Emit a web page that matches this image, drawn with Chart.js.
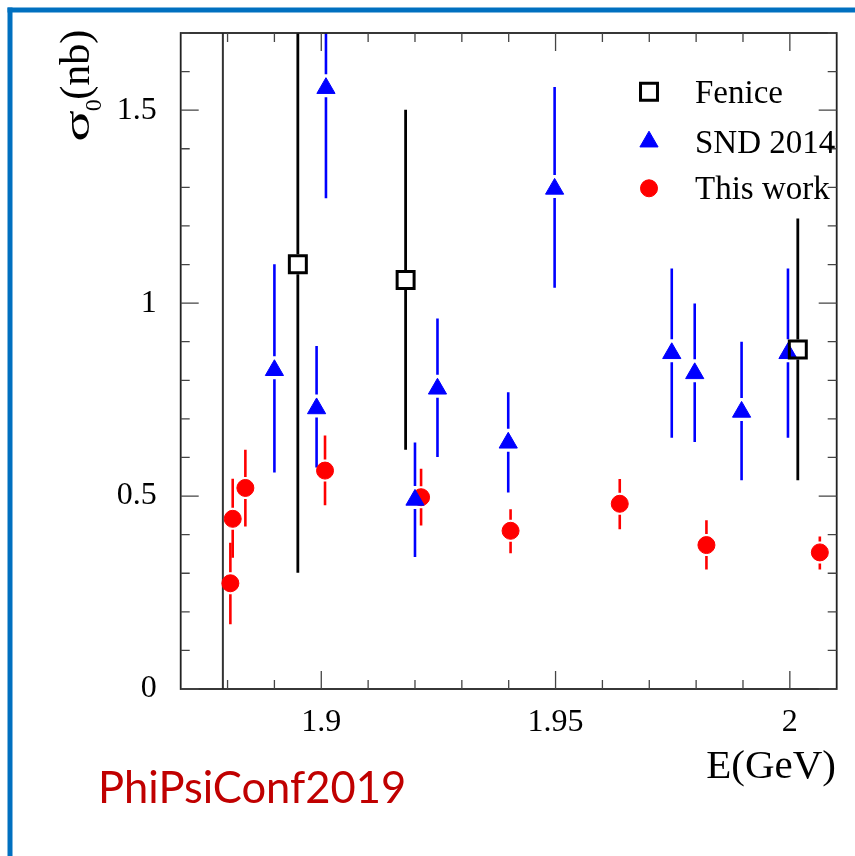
<!DOCTYPE html>
<html><head><meta charset="utf-8">
<script src="https://cdn.jsdelivr.net/npm/chart.js@4/dist/chart.umd.min.js"></script>
<style>html,body{margin:0;padding:0;background:#fff;} canvas{display:block;}</style>
</head><body>
<canvas id="c" width="855" height="856"></canvas>
<script>
// ---- data ----
const feniceE     = [1.8950, 1.9180, 2.0017];
const feniceSigma = [1.101, 1.060, 0.880];
const feniceHi    = [1.901, 1.501, 1.219];
const feniceLo    = [0.301, 0.620, 0.541];

const sndE     = [1.8900, 1.8990, 1.9010, 1.9200, 1.9248, 1.9399, 1.9498, 1.9748, 1.9797, 1.9897, 1.9996];
const sndSigma = [0.826, 0.727, 1.557, 0.490, 0.778, 0.638, 1.296, 0.870, 0.818, 0.718, 0.870];
const sndHi    = [1.101, 0.889, 1.842, 0.639, 0.960, 0.769, 1.560, 1.090, 0.999, 0.900, 1.090];
const sndLo    = [0.561, 0.574, 1.272, 0.342, 0.601, 0.509, 1.040, 0.651, 0.640, 0.541, 0.651];

const thisE     = [1.8806, 1.8811, 1.8838, 1.9008, 1.9213, 1.9404, 1.9637, 1.9822, 2.0064];
const thisSigma = [0.274, 0.441, 0.521, 0.566, 0.497, 0.410, 0.480, 0.373, 0.354];
const thisHi    = [0.379, 0.545, 0.620, 0.657, 0.571, 0.466, 0.544, 0.437, 0.395];
const thisLo    = [0.168, 0.340, 0.421, 0.476, 0.424, 0.352, 0.414, 0.310, 0.310];

const thresholdE = 1.879;
const seriesLabels = ['Fenice', 'SND 2014', 'This work'];
const xMajorTicks = [1.9, 1.95, 2];
const xMinorTicks = [1.88, 1.89, 1.91, 1.92, 1.93, 1.94, 1.96, 1.97, 1.98, 1.99, 2.0];
const yMajorTicks = [0, 0.5, 1, 1.5];
const yMinorTicks = [0.1, 0.2, 0.3, 0.4, 0.6, 0.7, 0.8, 0.9, 1.1, 1.2, 1.3, 1.4, 1.6, 1.7];
const xTitle = 'E(GeV)';
const yTitleMain = 'σ', yTitleSub = '0', yTitleRest = '(nb)';
const watermark = 'PhiPsiConf2019';

const pts = (xs, ys) => xs.map((x, i) => ({x: x, y: ys[i]}));
const SERIF = "'Liberation Serif', 'Times New Roman', serif";

function marker(ctx, style, x, y, r, fill, stroke, bw) {
  ctx.save();
  ctx.beginPath();
  if (style === 'rect') {
    const s = r * Math.SQRT1_2;
    ctx.rect(x - s, y - s, 2 * s, 2 * s);
  } else if (style === 'triangle') {
    ctx.moveTo(x, y - r);
    ctx.lineTo(x + 0.866 * r, y + 0.5 * r);
    ctx.lineTo(x - 0.866 * r, y + 0.5 * r);
    ctx.closePath();
  } else {
    ctx.arc(x, y, r, 0, Math.PI * 2);
  }
  ctx.fillStyle = fill; ctx.fill();
  if (bw > 0) { ctx.lineWidth = bw; ctx.strokeStyle = stroke; ctx.stroke(); }
  ctx.restore();
}

const bgPlugin = {
  id: 'bg',
  beforeDraw(chart) {
    const ctx = chart.ctx;
    ctx.save();
    ctx.fillStyle = '#fff';
    ctx.fillRect(0, 0, chart.width, chart.height);
    ctx.fillStyle = '#0070C0';
    ctx.fillRect(7.5, 7.5, chart.width - 7.5, 5);
    ctx.fillRect(7.5, 7.5, 5, chart.height - 7.5);
    ctx.restore();
  }
};

const errPlugin = {
  id: 'errbars',
  beforeDatasetsDraw(chart) {
    const ctx = chart.ctx, xs = chart.scales.x, ys = chart.scales.y, a = chart.chartArea;
    ctx.save();
    ctx.beginPath(); ctx.rect(a.left, a.top, a.right - a.left, a.bottom - a.top); ctx.clip();
    chart.data.datasets.forEach(ds => {
      if (!ds.errHi) return;
      ctx.strokeStyle = ds.borderColor; ctx.lineWidth = ds.errWidth; ctx.lineCap = 'butt';
      ds.data.forEach((p, i) => {
        const px = xs.getPixelForValue(p.x), py = ys.getPixelForValue(p.y);
        const ph = ys.getPixelForValue(ds.errHi[i]), pl = ys.getPixelForValue(ds.errLo[i]);
        ctx.beginPath();
        if (ph < py - ds.gapUp) { ctx.moveTo(px, ph); ctx.lineTo(px, py - ds.gapUp); }
        if (pl > py + ds.gapDown) { ctx.moveTo(px, py + ds.gapDown); ctx.lineTo(px, pl); }
        ctx.stroke();
      });
    });
    ctx.restore();
  }
};

const framePlugin = {
  id: 'frame',
  afterDatasetsDraw(chart) {
    const ctx = chart.ctx, xs = chart.scales.x, ys = chart.scales.y, a = chart.chartArea;
    ctx.save();
    ctx.strokeStyle = '#222'; ctx.lineWidth = 1.8;
    ctx.strokeRect(a.left, a.top, a.right - a.left, a.bottom - a.top);
    ctx.lineWidth = 1.3; ctx.strokeStyle = '#444';
    ctx.beginPath();
    const tx = (vals, len) => vals.forEach(v => { const p = xs.getPixelForValue(v);
      ctx.moveTo(p, a.bottom); ctx.lineTo(p, a.bottom - len); ctx.moveTo(p, a.top); ctx.lineTo(p, a.top + len); });
    const ty = (vals, len) => vals.forEach(v => { const p = ys.getPixelForValue(v);
      ctx.moveTo(a.left, p); ctx.lineTo(a.left + len, p); ctx.moveTo(a.right, p); ctx.lineTo(a.right - len, p); });
    tx(xMajorTicks, 18); tx(xMinorTicks, 9); ty(yMajorTicks, 18); ty(yMinorTicks, 9);
    ctx.stroke();
    ctx.restore();
  },
  afterDraw(chart) {
    const ctx = chart.ctx;
    ctx.save();
    // legend
    const ds = chart.data.datasets;
    const ly = [91.7, 141.7, 188.3];
    ctx.font = '33px ' + SERIF; ctx.fillStyle = '#000'; ctx.textBaseline = 'alphabetic';
    for (let i = 0; i < 3; i++) {
      const d = ds[i];
      marker(ctx, d.pointStyle, 649, ly[i], d.pointRadius, d.backgroundColor, d.borderColor, d.borderWidth);
      ctx.fillStyle = '#000';
      ctx.fillText(d.label, 695, ly[i] + 11);
    }
    // x title
    ctx.font = '41px ' + SERIF; ctx.textAlign = 'right';
    ctx.fillText(xTitle, 836, 778);
    // y title
    ctx.save();
    ctx.translate(88.5, 141.7); ctx.rotate(-Math.PI / 2);
    ctx.textAlign = 'left';
    ctx.font = '36px ' + SERIF;
    const sw = ctx.measureText(yTitleMain).width;
    ctx.save(); ctx.scale(31.7 / sw, 1); ctx.fillText(yTitleMain, 0, 0); ctx.restore();
    ctx.font = '24px ' + SERIF;
    ctx.fillText(yTitleSub, 30.5, 12);
    ctx.font = '42px ' + SERIF;
    ctx.fillText(yTitleRest, 42, 0);
    ctx.restore();
    // watermark
    ctx.font = "43.5px Lato, 'Open Sans', sans-serif"; ctx.fillStyle = '#C00000'; ctx.textAlign = 'left';
    ctx.fillText(watermark, 98, 803);
    ctx.restore();
  }
};

new Chart(document.getElementById('c'), {
  type: 'scatter',
  data: {
    datasets: [
      { label: seriesLabels[0], data: pts(feniceE, feniceSigma), errHi: feniceHi, errLo: feniceLo,
        pointStyle: 'rect', pointRadius: 12, backgroundColor: 'rgba(255,255,255,0)', borderColor: '#000', borderWidth: 3,
        errWidth: 2.8, gapUp: 10, gapDown: 10 },
      { label: seriesLabels[1], data: pts(sndE, sndSigma), errHi: sndHi, errLo: sndLo,
        pointStyle: 'triangle', pointRadius: 10.5, backgroundColor: '#0000FF', borderColor: '#0000FF', borderWidth: 1,
        errWidth: 2.6, gapUp: 14, gapDown: 9 },
      { label: seriesLabels[2], data: pts(thisE, thisSigma), errHi: thisHi, errLo: thisLo,
        pointStyle: 'circle', pointRadius: 8.5, backgroundColor: '#FF0000', borderColor: '#FF0000', borderWidth: 1,
        errWidth: 2.6, gapUp: 11, gapDown: 11 },
      { type: 'line', label: 'threshold', data: [{x: thresholdE, y: 0}, {x: thresholdE, y: 1.7}],
        borderColor: '#333', borderWidth: 2, pointRadius: 0, showLine: true, fill: false }
    ]
  },
  options: {
    responsive: false, animation: false, devicePixelRatio: 1,
    layout: { padding: { left: 0, right: 18.3, top: 33, bottom: 0 } },
    plugins: { legend: { display: false }, tooltip: { enabled: false } },
    scales: {
      x: { type: 'linear', min: 1.87, max: 2.01,
        grid: { display: false, drawTicks: false }, border: { display: false },
        afterBuildTicks: s => { s.ticks = xMajorTicks.map(v => ({ value: v })); },
        afterFit: s => { s.height = 167; s.paddingLeft = 0; s.paddingRight = 0; s.paddingTop = 0; s.paddingBottom = 0; },
        ticks: { autoSkip: false, maxRotation: 0, padding: 14, color: '#000',
          font: { family: SERIF, size: 32 }, callback: v => String(v) } },
      y: { type: 'linear', min: 0, max: 1.7,
        grid: { display: false, drawTicks: false }, border: { display: false },
        afterBuildTicks: s => { s.ticks = yMajorTicks.map(v => ({ value: v })); },
        afterFit: s => { s.width = 180.7; s.paddingLeft = 0; s.paddingRight = 0; s.paddingTop = 0; s.paddingBottom = 0; },
        ticks: { autoSkip: false, padding: 24, color: '#000',
          font: { family: SERIF, size: 32 }, callback: v => String(v) } }
    }
  },
  plugins: [bgPlugin, errPlugin, framePlugin]
});
</script>
</body></html>
